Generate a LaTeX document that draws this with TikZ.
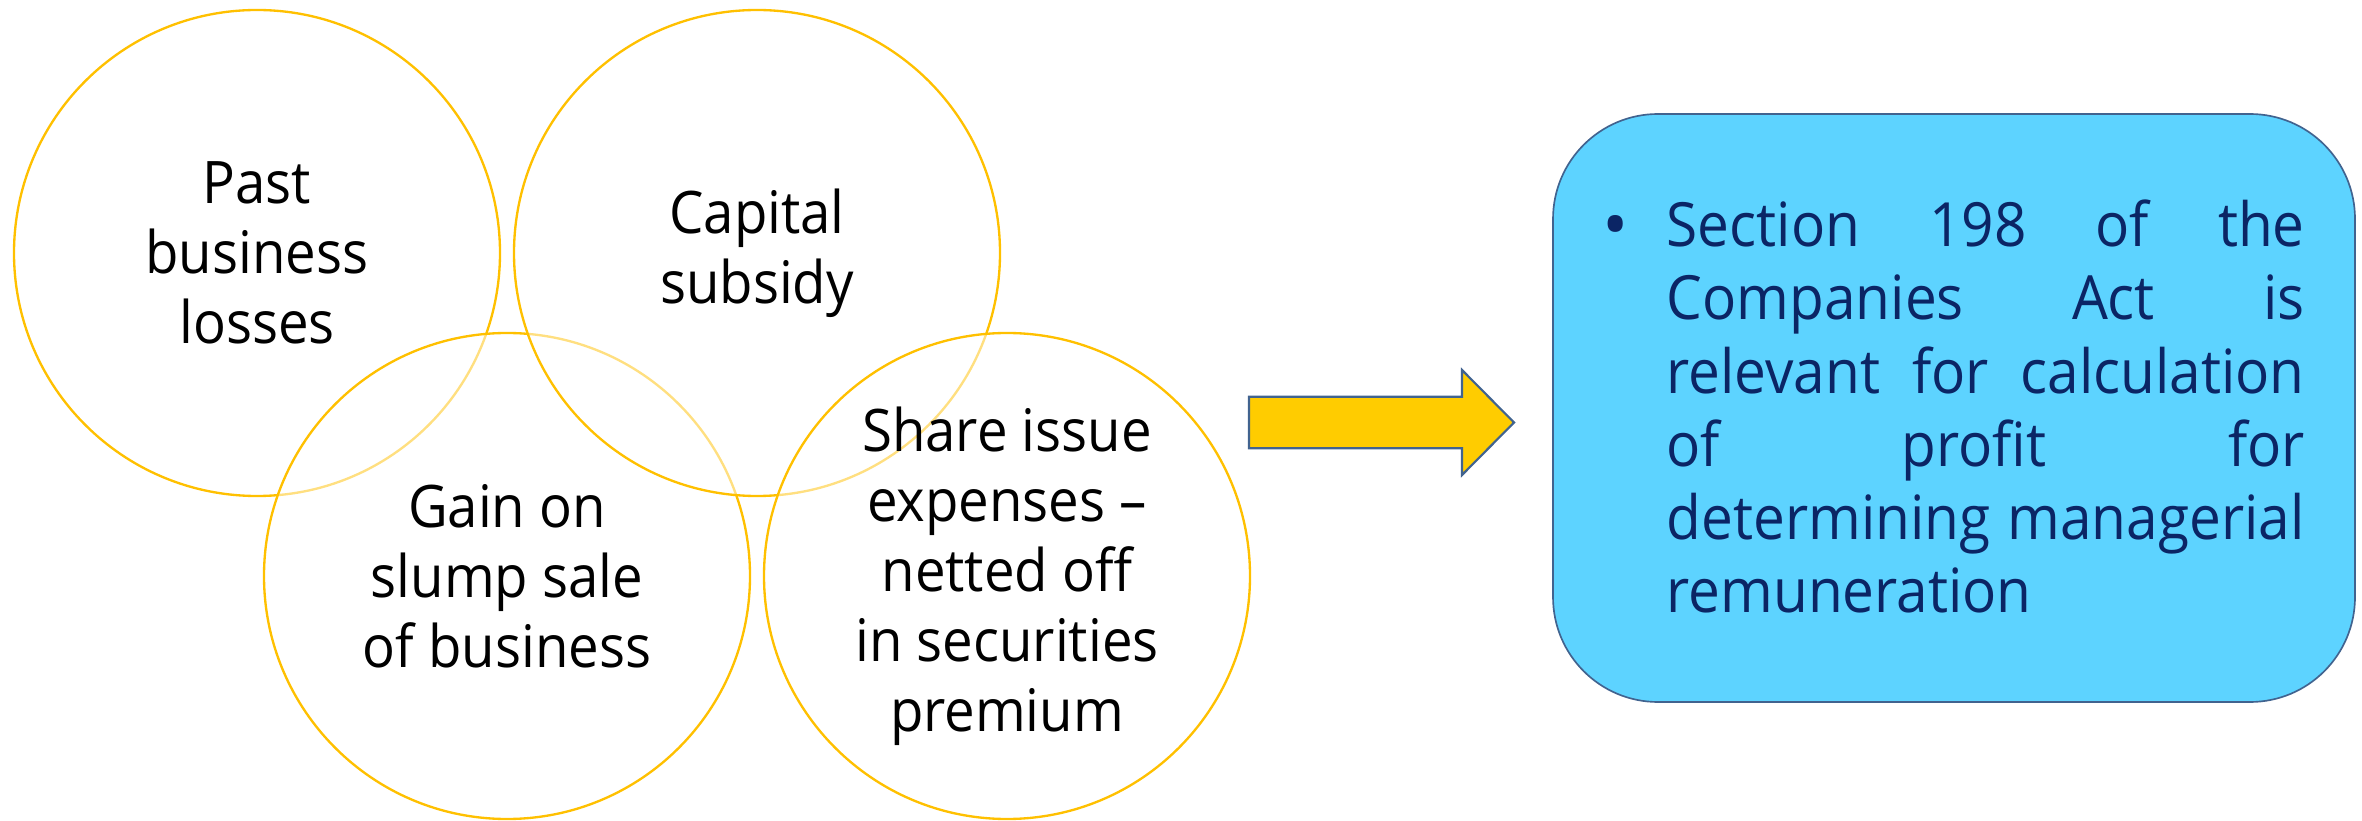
\documentclass[tikz,border=0pt]{standalone}
\usepackage{fontspec}
\setmainfont{Open Sans}[FakeStretch=0.93]
\newfontfamily\dotfont{Open Sans}
\newlength\panelw
\setlength\panelw{191.4pt}
\newcommand\fullline[1]{\leavevmode\hbox to \panelw{#1}}
\definecolor{ringgold}{HTML}{FFC000}
\definecolor{arrowfill}{HTML}{FFCC00}
\definecolor{outlineblue}{HTML}{41638F}
\definecolor{panelfill}{HTML}{5DD3FF}
\definecolor{navytext}{HTML}{0B2565}
\begin{document}
\begin{tikzpicture}[x=0.3pt,y=-0.3pt,
  ring/.style={circle, draw=ringgold, line width=0.7pt, fill=white,
    fill opacity=0.5, text opacity=1, minimum size=145.8pt, inner sep=0pt,
    align=center, text=black, font=\fontsize{17.6}{21}\selectfont},
  blockarrow/.style={draw=outlineblue, line width=0.65pt, fill=arrowfill, line join=miter},
  panel/.style={draw=outlineblue, line width=0.5pt, fill=panelfill,
    rounded corners=31.5pt, minimum width=240.6pt, minimum height=176.4pt, inner sep=0pt},
  paneltext/.style={text=navytext, inner sep=0pt, text width=\panelw, align=left,
    font=\fontsize{18.3}{22}\selectfont}]
\useasboundingbox (0,0) rectangle (2362,821);

% overlapping rings, drawn in stacking order
\node[ring] (past) at (257,253) {Past\\business\\losses};
\node[ring] (gain) at (507,576) {Gain on\\slump sale\\of business};
\node[ring] (subsidy) at (757,253) {Capital\\subsidy};
\node[ring] (share) at (1007,576) {Share issue\\expenses --\\netted off\\in securities\\premium};

% block arrow
\draw[blockarrow] (1249,396.7) -- (1462,396.7) -- (1462,370) -- (1514,422.5)
  -- (1462,475) -- (1462,448.3) -- (1249,448.3) -- cycle;

% rounded panel with the bullet point
\node[panel] (sec) at (1954,408) {};
\node[text=navytext, anchor=base, inner sep=0pt, font=\dotfont\fontsize{21}{21}\selectfont] (dot) at (1616,250) {•};
\node[paneltext, anchor=north west] (txt) at (1666,199) {%
\fullline{Section\hfill 198\hfill of\hfill the}\\
\fullline{Companies\hfill Act\hfill is}\\
\fullline{relevant\hfill for\hfill calculation}\\
\fullline{of\hfill profit\hfill for}\\
\fullline{determining\hfill managerial}\\
remuneration};
\end{tikzpicture}
\end{document}
